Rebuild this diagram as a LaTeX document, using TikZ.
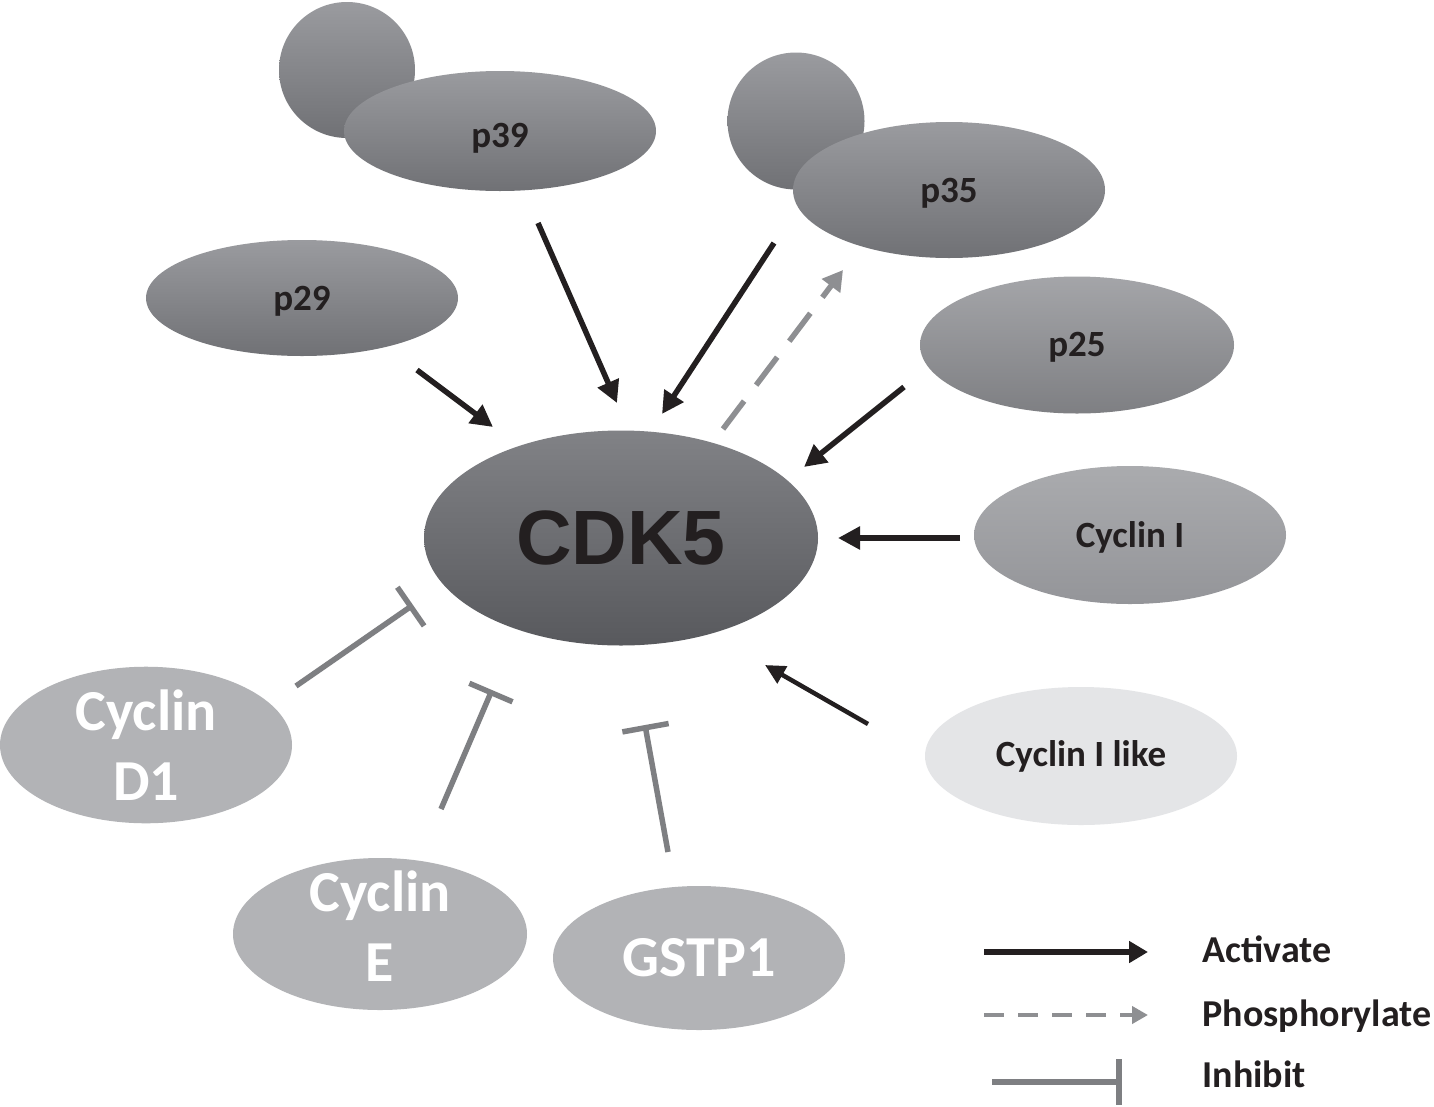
\documentclass[tikz,border=0pt]{standalone}
\usepackage{fontspec}
\setmainfont{Carlito}
\newfontfamily\arialfam{Liberation Sans}
\usetikzlibrary{shapes.geometric,arrows.meta}
\definecolor{txtdark}{HTML}{231F20}
\definecolor{inhgray}{HTML}{7E7F82}
\definecolor{phosgray}{HTML}{8E8F92}
\definecolor{gray1top}{HTML}{9A9B9F}
\definecolor{gray1bot}{HTML}{707175}
\definecolor{cdktop}{HTML}{818286}
\definecolor{cdkbot}{HTML}{58595D}
\definecolor{cyitop}{HTML}{AAABAE}
\definecolor{cyibot}{HTML}{949599}
\definecolor{cyilike}{HTML}{E4E5E7}
\definecolor{lightgray}{HTML}{B2B3B6}
\tikzset{
  blob/.style={ellipse, inner sep=0pt, draw=none},
  sphere/.style={circle, inner sep=0pt, draw=none, top color=gray1top, bottom color=gray1bot},
  midgray/.style={top color=gray1top, bottom color=gray1bot},
  darklabel/.style={font=\bfseries\fontsize{37}{40}\selectfont, text=txtdark},
  whitelabel/.style={font=\bfseries\fontsize{58}{70}\selectfont, text=white, align=center},
  activ/.style={draw=txtdark, line width=5.5pt, -{Triangle[length=22pt,width=22pt]}},
  activthin/.style={draw=txtdark, line width=4.5pt, -{Triangle[length=20pt,width=19pt]}},
  phos/.style={draw=phosgray, line width=5.5pt, dash pattern=on 35pt off 20pt, -{Triangle[length=20pt,width=22pt]}},
  inhib/.style={draw=inhgray, line width=5.5pt, -{Bar[width=47pt]}},
  legtext/.style={anchor=base west, font=\bfseries\fontsize{38}{40}\selectfont, text=txtdark},
}
\begin{document}
\begin{tikzpicture}[x=1pt,y=-1pt]
\useasboundingbox (0,0) rectangle (1434,1106);
\fill[white] (0,0) rectangle (1434,1106);

% spheres behind
\node[sphere, minimum size=136pt] (p39s) at (347,70) {};
\node[sphere, minimum size=137pt] (p35s) at (796,121) {};

% ellipses
\node[blob, midgray, minimum width=312pt, minimum height=120pt,
      label={[darklabel, yshift=-7pt]center:p39}] (p39) at (500,131) {};
\node[blob, midgray, minimum width=312pt, minimum height=136pt,
      label={[darklabel, yshift=-3pt]center:p35}] (p35) at (949,190) {};
\node[blob, midgray, minimum width=312pt, minimum height=116pt,
      label={[darklabel, yshift=-3pt]center:p29}] (p29) at (302,298) {};
\node[blob, top color=gray1top!90!white, bottom color=gray1bot!90!white, minimum width=314pt, minimum height=137pt,
      label={[darklabel, yshift=-2pt]center:p25}] (p25) at (1077,345) {};
\node[blob, top color=cdktop, bottom color=cdkbot, minimum width=394pt, minimum height=215pt,
      font=\arialfam\bfseries\fontsize{77}{80}\selectfont, text=txtdark] (cdk) at (621,538) {CDK5};
\node[blob, top color=cyitop, bottom color=cyibot, minimum width=312pt, minimum height=138pt,
      label={[darklabel, yshift=-2pt]center:Cyclin I}] (cyci) at (1130,535) {};
\node[blob, fill=cyilike, minimum width=312pt, minimum height=138pt, darklabel] (cycil) at (1081,756) {Cyclin I like};
\node[blob, fill=lightgray, minimum width=292pt, minimum height=146pt, whitelabel] (cycd1) at (146,745) {Cyclin\\D1};
\node[blob, fill=lightgray, minimum width=294pt, minimum height=152pt,
      label={[whitelabel, yshift=8pt]center:{Cyclin\\E}}] (cyce) at (380,934) {};
\node[blob, fill=lightgray, minimum width=292pt, minimum height=144pt, whitelabel] (gstp1) at (699,958) {GSTP1};

% connector end points
\coordinate (a29s) at (417,370);  \coordinate (a29e) at (493,427);
\coordinate (a39s) at (538,223);  \coordinate (a39e) at (617,403);
\coordinate (a35s) at (774,243);  \coordinate (a35e) at (662,414);
\coordinate (phs)  at (723,429);  \coordinate (phe)  at (843,270);
\coordinate (a25s) at (904,387);  \coordinate (a25e) at (804,467);
\coordinate (aIs)  at (960,538);  \coordinate (aIe)  at (838,538);
\coordinate (aILs) at (868,724);  \coordinate (aILe) at (765,665);
\coordinate (iD1s) at (296,686);  \coordinate (iD1e) at (413,605);
\coordinate (iEs)  at (441,809);  \coordinate (iEe)  at (492,690);
\coordinate (iGs)  at (668,852);  \coordinate (iGe)  at (645,725);

\draw[activ] (a29s) -- (a29e);
\draw[activ] (a39s) -- (a39e);
\draw[activ] (a35s) -- (a35e);
\draw[phos]  (phs) -- (phe);
\draw[activ] (a25s) -- (a25e);
\draw[activ] (aIs) -- (aIe);
\draw[activthin] (aILs) -- (aILe);
\draw[inhib] (iD1s) -- (iD1e);
\draw[inhib] (iEs) -- (iEe);
\draw[inhib] (iGs) -- (iGe);

% legend
\coordinate (la1) at (984,952);  \coordinate (la2) at (1148,952);
\coordinate (lp1) at (984,1015); \coordinate (lp2) at (1148,1015);
\coordinate (li1) at (992,1082); \coordinate (li2) at (1122,1082);
\draw[draw=txtdark, line width=5.5pt, -{Triangle[length=19pt,width=21pt]}] (la1) -- (la2);
\draw[draw=phosgray, line width=4.5pt, dash pattern=on 20pt off 14pt, -{Triangle[length=16pt,width=17pt]}] (lp1) -- (lp2);
\draw[draw=inhgray, line width=6.5pt, -{Bar[width=46pt]}] (li1) -- (li2);
\node[legtext] (lgact) at (1199,962) {Activate};
\node[legtext] (lgpho) at (1199,1026) {Phosphorylate};
\node[legtext] (lginh) at (1199,1087) {Inhibit};
\end{tikzpicture}
\end{document}
